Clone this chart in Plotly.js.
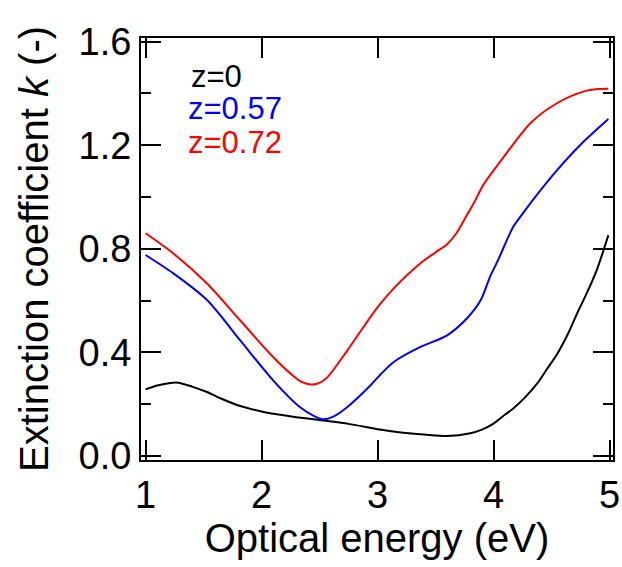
<!DOCTYPE html>
<html>
<head>
<meta charset="utf-8">
<script src="https://cdn.plot.ly/plotly-3.0.1.min.js"></script>
<style>html,body{margin:0;padding:0;background:#fff;}#chart{width:622px;height:567px;}</style>
</head>
<body>
<div id="chart"></div>
<script>
// z = 0
const energyZ0 = [1.00,1.10,1.20,1.28,1.40,1.53,1.65,1.815,2.00,2.10,2.30,2.53,2.75,3.02,3.22,3.40,3.60,3.80,3.90,4.00,4.10,4.17,4.28,4.375,4.46,4.55,4.64,4.72,4.80,4.89,4.99];
const kZ0 = [0.257,0.272,0.281,0.283,0.268,0.247,0.222,0.193,0.172,0.163,0.150,0.137,0.124,0.102,0.090,0.083,0.077,0.088,0.102,0.125,0.160,0.183,0.230,0.279,0.335,0.395,0.470,0.550,0.625,0.718,0.853];
// z = 0.57
const energyZ057 = [1.00,1.24,1.53,1.815,2.10,2.33,2.45,2.53,2.62,2.74,2.94,3.02,3.14,3.37,3.60,3.77,3.89,3.97,4.04,4.09,4.17,4.25,4.35,4.55,4.75,4.99];
const kZ057 = [0.776,0.705,0.602,0.447,0.292,0.189,0.155,0.142,0.152,0.189,0.273,0.312,0.363,0.421,0.466,0.531,0.602,0.692,0.757,0.808,0.885,0.935,0.995,1.105,1.202,1.301];
// z = 0.72
const energyZ072 = [1.00,1.24,1.53,1.815,2.10,2.25,2.34,2.42,2.48,2.56,2.74,2.94,3.02,3.14,3.37,3.51,3.60,3.68,3.77,3.84,3.91,4.09,4.32,4.55,4.78,4.90,4.99];
const kZ072 = [0.860,0.782,0.666,0.524,0.382,0.318,0.287,0.276,0.279,0.300,0.408,0.537,0.585,0.647,0.744,0.789,0.818,0.860,0.930,0.985,1.045,1.156,1.286,1.363,1.408,1.417,1.418];

const seriesNames = ['z=0','z=0.57','z=0.72'];
const seriesColors = ['#000000','#0000ff','#ff0000'];
const xTickVals = [1,2,3,4,5];
const yTickVals = [0.0,0.4,0.8,1.2,1.6];
const yTickText = ['0.0','0.4','0.8','1.2','1.6'];

const xs = [energyZ0, energyZ057, energyZ072];
const ys = [kZ0, kZ057, kZ072];
const traces = xs.map((x,i)=>({
  x: x, y: ys[i], type:'scatter', mode:'lines', name: seriesNames[i],
  line:{color: seriesColors[i], width:2, shape:'spline', smoothing:0.8}, showlegend:false
}));

const legendY = [1.467, 1.345, 1.211];
const legendX = [1.383, 1.358, 1.358];
const annotations = seriesNames.map((n,i)=>({
  x: legendX[i], y: legendY[i], xref:'x', yref:'y', text: n, showarrow:false,
  xanchor:'left', yanchor:'middle', height:28, valign:'middle', borderpad:0,
  font:{family:'Liberation Sans, Arial, sans-serif', size:31, color: seriesColors[i]}
}));

const font = {family:'Liberation Sans, Arial, sans-serif', color:'#000'};
const layout = {
  width:622, height:567,
  margin:{l:141, r:9, t:38, b:107},
  paper_bgcolor:'#fff', plot_bgcolor:'#fff',
  font: font,
  showlegend:false,
  xaxis:{
    range:[0.961,5.030], tickvals:xTickVals, ticktext:xTickVals.map(String),
    ticks:'inside', ticklen:20, tickwidth:2, tickcolor:'#000',
    showline:true, linewidth:2, linecolor:'#000', mirror:'allticks',
    showgrid:false, zeroline:false,
    tickfont:{size:38, family:font.family, color:'#000'},
    title:{text:'Optical energy (eV)', font:{size:40, family:font.family, color:'#000'}, standoff:8}
  },
  yaxis:{
    range:[-0.0155,1.614], tickvals:yTickVals, ticktext:yTickText,
    ticks:'inside', ticklen:20, tickwidth:2, tickcolor:'#000',
    minor:{tick0:0, dtick:0.2, ticks:'inside', ticklen:10, tickwidth:2, tickcolor:'#000', showgrid:false},
    showline:true, linewidth:2, linecolor:'#000', mirror:'allticks',
    showgrid:false, zeroline:false,
    tickfont:{size:38, family:font.family, color:'#000'},
    title:{text:'Extinction coefficient <i>k</i> (-)', font:{size:40, family:font.family, color:'#000'}, standoff:18}
  },
  annotations: annotations
};

Plotly.newPlot('chart', traces, layout, {displayModeBar:false, staticPlot:true});
</script>
</body>
</html>
